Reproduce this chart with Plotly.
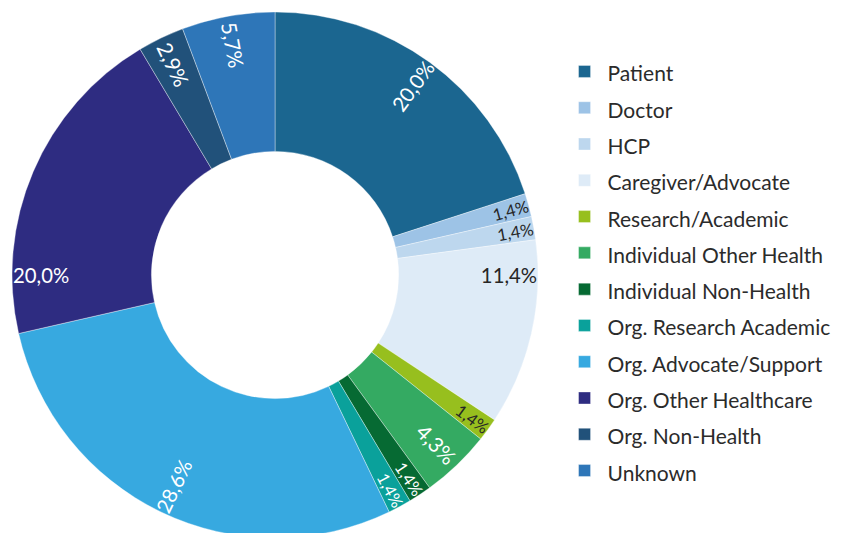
import plotly.graph_objects as go

categories = ['Patient', 'Doctor', 'HCP', 'Caregiver/Advocate', 'Research/Academic',
              'Individual Other Health', 'Individual Non-Health', 'Org. Research Academic',
              'Org. Advocate/Support', 'Org. Other Healthcare', 'Org. Non-Health', 'Unknown']
counts = [14, 1, 1, 8, 1, 3, 1, 1, 20, 14, 2, 4]
colors = ['#1b6690', '#9dc3e6', '#bdd7ee', '#deebf7', '#97bf1e', '#34aa62',
          '#066a33', '#0aa19b', '#37a9e0', '#2e2c81', '#21517a', '#2e76b8']
text_colors = ['white', '#262626', '#262626', '#262626', '#262626', 'white',
               'white', 'white', 'white', 'white', 'white', 'white']

# legend text is smaller than the legend font so the rows get more room
legend_labels = ['<span style="font-size:21px">%s</span>' % c for c in categories]

fig = go.Figure()

# main donut
fig.add_trace(go.Pie(
    labels=legend_labels,
    values=counts,
    hole=0.47,
    sort=False,
    direction='clockwise',
    rotation=0,
    marker=dict(colors=colors, line=dict(color='rgba(255,255,255,0.6)', width=0.6)),
    textinfo='none',
    domain=dict(x=[0, 0.627], y=[0, 1]),
))

# transparent ring near the rim that only carries the labels
fig.add_trace(go.Pie(
    labels=legend_labels,
    values=counts,
    hole=0.78,
    sort=False,
    direction='clockwise',
    rotation=0,
    marker=dict(colors=['rgba(0,0,0,0)'] * len(counts)),
    texttemplate='%{percent:.1%}',
    textposition='inside',
    insidetextorientation='radial',
    insidetextfont=dict(color=text_colors, size=21, family='Lato'),
    showlegend=False,
    hoverinfo='skip',
    domain=dict(x=[0, 0.627], y=[0, 1]),
))

fig.update_layout(
    width=843,
    height=533,
    separators=',.',
    paper_bgcolor='white',
    plot_bgcolor='white',
    margin=dict(l=4, r=0, t=4, b=3),
    font=dict(family='Lato', size=19, color='#2b2b2b'),
    legend=dict(x=0.655, y=0.507, xanchor='left', yanchor='middle',
                font=dict(size=25.6, color='#2b2b2b'), itemwidth=36),
)

fig.write_html("out.html")
